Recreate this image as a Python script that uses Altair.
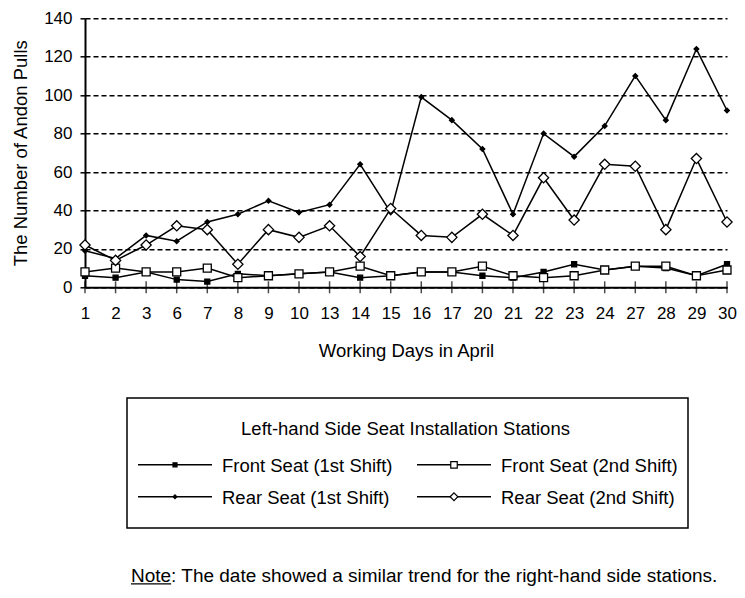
import altair as alt
import pandas as pd

# ---------------- data ----------------
days = [1, 2, 3, 6, 7, 8, 9, 10, 13, 14, 15, 16, 17, 20, 21, 22, 23, 24, 27, 28, 29, 30]
front_1st = [6, 5, 8, 4, 3, 7, 6, 7, 8, 5, 6, 8, 8, 6, 5, 8, 12, 9, 11, 10, 6, 12]
front_2nd = [8, 10, 8, 8, 10, 5, 6, 7, 8, 11, 6, 8, 8, 11, 6, 5, 6, 9, 11, 11, 6, 9]
rear_1st = [19, 15, 27, 24, 34, 38, 45, 39, 43, 64, 39, 99, 87, 72, 38, 80, 68, 84, 110, 87, 124, 92]
rear_2nd = [22, 14, 22, 32, 30, 12, 30, 26, 32, 16, 41, 27, 26, 38, 27, 57, 35, 64, 63, 30, 67, 34]

series_names = ["Front Seat (1st Shift)", "Front Seat (2nd Shift)",
                "Rear Seat (1st Shift)", "Rear Seat (2nd Shift)"]
series_values = [front_1st, front_2nd, rear_1st, rear_2nd]
y_ticks = [0, 20, 40, 60, 80, 100, 120, 140]

legend_title = "Left-hand Side Seat Installation Stations"
note_label = "Note"
note_text = ": The date showed a similar trend for the right-hand side stations."

# ---------------- styles ----------------
FONT = "Liberation Sans, Arial, Helvetica, sans-serif"
W, H = 642, 269
marker_style = {
    # name: (shape, fill, plot size, legend size)
    series_names[0]: ("square", "black", 25, 16),
    series_names[1]: ("square", "white", 64, 42),
    series_names[2]: ("diamond", "black", 22, 14),
    series_names[3]: ("diamond", "white", 105, 60),
}

rows = []
for name, vals in zip(series_names, series_values):
    for d, v in zip(days, vals):
        rows.append({"Day": d, "Value": v, "Series": name})
df = pd.DataFrame(rows)

X = alt.X("Day:O", sort=days,
          scale=alt.Scale(type="point", padding=0),
          axis=alt.Axis(title="Working Days in April", labelAngle=0,
                        ticks=True, tickSize=0, domainColor="black", domainWidth=2,
                        labelFontSize=17, labelColor="black", labelFont=FONT,
                        labelBaseline="alphabetic", labelPadding=31,
                        titleFontSize=18.5, titleFont=FONT, titleColor="black",
                        titleFontWeight="normal", titleBaseline="alphabetic",
                        titleY=69.5, grid=False))
Y = alt.Y("Value:Q",
          scale=alt.Scale(domain=[0, 140], nice=False, zero=True),
          axis=alt.Axis(title="The Number of Andon Pulls", values=y_ticks,
                        domainColor="black", domainWidth=2,
                        tickColor="black", tickWidth=1.5, tickSize=5,
                        labelFontSize=17, labelColor="black", labelFont=FONT,
                        labelPadding=8,
                        grid=True, gridColor="black", gridDash=[5, 3], gridWidth=1.5,
                        titleFontSize=18.5, titleFont=FONT, titleColor="black",
                        titleFontWeight="normal", titleBaseline="alphabetic",
                        titleX=-58.5, titleY=H / 2))

lines = alt.Chart(df).mark_line(color="black", strokeWidth=1.5).encode(
    x=X, y=Y, detail="Series:N")

ticks_df = pd.DataFrame({"Day": days, "Value": [0] * len(days)})
xticks = alt.Chart(ticks_df).mark_tick(orient="vertical", color="black",
                                       size=12, thickness=1.5).encode(x=X, y=Y)

point_layers = []
for name in series_names:
    shape, fill, psize, _ = marker_style[name]
    point_layers.append(
        alt.Chart(df).transform_filter(alt.datum.Series == name).mark_point(
            shape=shape, fill=fill, stroke="black", strokeWidth=1.3,
            size=psize, opacity=1, fillOpacity=1).encode(x=X, y=Y))

# ---------------- legend (drawn below the plot) ----------------
BOX = (42, 379.7, 603, 509.7)
COL_X = [53, 332]
ROW_Y = [454, 486]
LINE_LEN = 74
leg_rows = []
for i, name in enumerate(series_names):
    c, r = i % 2, i // 2
    x0 = COL_X[c]
    leg_rows.append({"name": name, "x1": x0, "x2": x0 + LINE_LEN,
                     "xm": x0 + LINE_LEN / 2, "xt": x0 + LINE_LEN + 10,
                     "yt": ROW_Y[r], "yl": ROW_Y[r] - 7.5})
leg_df = pd.DataFrame(leg_rows)

PX = lambda f: alt.X(f, scale=None, axis=None)
PY = lambda f: alt.Y(f, scale=None, axis=None)

box_df = pd.DataFrame([{"bx1": BOX[0], "by1": BOX[1], "bx2": BOX[2], "by2": BOX[3]}])
box = alt.Chart(box_df).mark_rect(fill=None, fillOpacity=0, stroke="black",
                                   strokeWidth=1.5).encode(
    x=PX("bx1:Q"), x2="bx2:Q", y=PY("by1:Q"), y2="by2:Q")

title_df = pd.DataFrame([{"t": legend_title, "tx": (BOX[0] + BOX[2]) / 2 - 2, "ty": 416.7}])
leg_title = alt.Chart(title_df).mark_text(align="center", baseline="alphabetic",
                                          fontSize=18.5, font=FONT, color="black").encode(
    x=PX("tx:Q"), y=PY("ty:Q"), text="t:N")

leg_lines = alt.Chart(leg_df).mark_rule(color="black", strokeWidth=1.5).encode(
    x=PX("x1:Q"), x2="x2:Q", y=PY("yl:Q"))

leg_text = alt.Chart(leg_df).mark_text(align="left", baseline="alphabetic",
                                       fontSize=18.5, font=FONT, color="black").encode(
    x=PX("xt:Q"), y=PY("yt:Q"), text="name:N")

leg_marks = []
for name in series_names:
    shape, fill, _, lsize = marker_style[name]
    leg_marks.append(
        alt.Chart(leg_df).transform_filter(alt.datum.name == name).mark_point(
            shape=shape, fill=fill, stroke="black", strokeWidth=1.2,
            size=lsize, opacity=1, fillOpacity=1).encode(x=PX("xm:Q"), y=PY("yl:Q")))

# ---------------- note ----------------
NOTE_FS = 19
note_x, note_y = 46, 563.4
note_w = 2.112 * NOTE_FS
note_df = pd.DataFrame([{"t": note_label + note_text, "nx": note_x, "ny": note_y,
                         "ux1": note_x, "ux2": note_x + note_w, "uy": note_y + 2.2}])
note = alt.Chart(note_df).mark_text(align="left", baseline="alphabetic",
                                    fontSize=NOTE_FS, font=FONT, color="black").encode(
    x=PX("nx:Q"), y=PY("ny:Q"), text="t:N")
underline = alt.Chart(note_df).mark_rule(color="black", strokeWidth=1.2).encode(
    x=PX("ux1:Q"), x2="ux2:Q", y=PY("uy:Q"))

chart = alt.layer(
    lines, xticks, *point_layers,
    box, leg_title, leg_lines, *leg_marks, leg_text,
    note, underline,
).properties(
    width=W, height=H,
    autosize=alt.AutoSizeParams(type="none"),
    padding={"left": 77, "top": 10.3, "right": 10, "bottom": 300},
    background="white",
).configure_view(stroke=None)

chart.save("out.html", embed_options={"renderer": "svg", "actions": False})
